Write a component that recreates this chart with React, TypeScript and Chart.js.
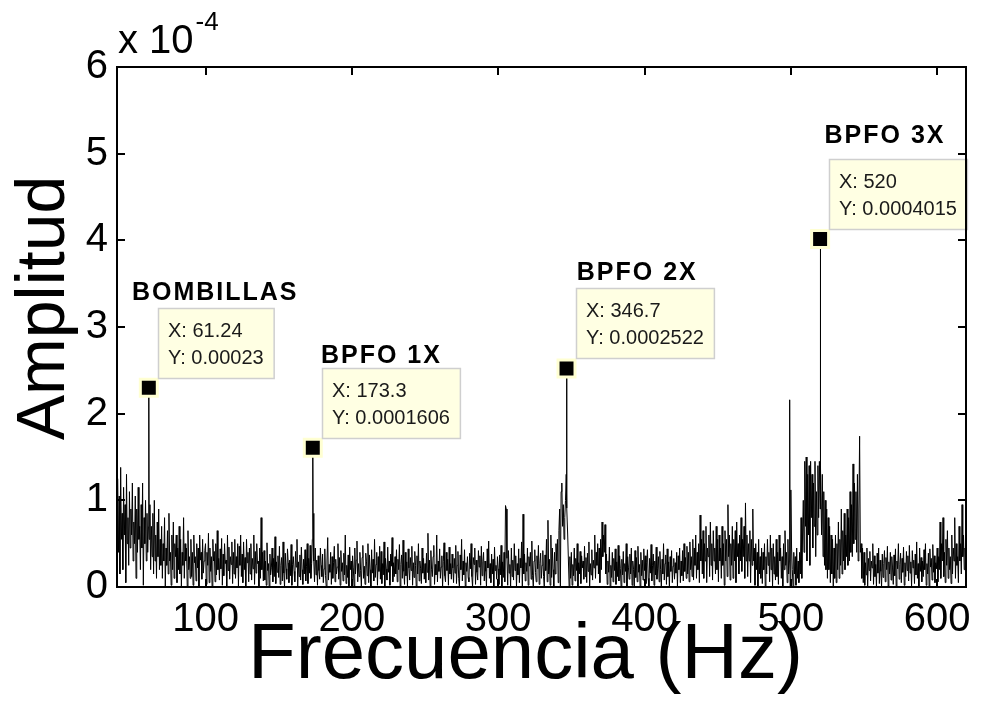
import React, { useEffect, useRef } from "react";
import { Chart, registerables } from "chart.js";

Chart.register(...registerables);

// ---------------- data ----------------
const FREQ_START = 40; // Hz
const FREQ_STEP = 0.5; // Hz
// spectrum amplitude (x 10^-4), every 0.5 Hz from 40 Hz to 620 Hz (one row = 10 Hz)
const noiseAmp: number[] = [
  1.25, 0.4, 1.05, 0.15, 1.38, 0.55, 0.85, 0.2, 1.15, 0.6, 0.95, 0.05, 1.3, 0.5, 0.8, 0.25, 1.1, 0.45, 0.9, 0.6,
  1.2, 0.3, 0.75, 0.5, 1.05, 0.1, 0.9, 0.4, 1.15, 0.55, 0.7, 0.2, 0.95, 0.45, 1.2, 0.02, 0.8, 0.5, 1.0, 0.3,
  0.85, 0.4, 0.7, 0.55, 0.95, 0.2, 0.7, 0.35, 0.85, 0.15, 1.0, 0.3, 0.6, 0.1, 0.75, 0.35, 0.9, 0.2, 0.55, 0.25,
  0.7, 0.1, 0.5, 0.3, 0.8, 0.0, 0.45, 0.25, 0.65, 0.15, 0.85, 0.3, 0.4, 0.02, 0.6, 0.2, 0.75, 0.1, 0.5, 0.35,
  0.6, 0.05, 0.45, 0.2, 0.7, 0.15, 0.55, 0.0, 0.4, 0.25, 0.8, 0.1, 0.5, 0.3, 0.45, 0.0, 0.65, 0.2, 0.35, 0.1,
  0.55, 0.12, 0.4, 0.02, 0.6, 0.28, 0.35, 0.07, 0.5, 0.22, 0.45, 0.0, 0.6, 0.31, 0.4, 0.09, 0.55, 0.16, 0.3, 0.42,
  0.5, 0.03, 0.4, 0.25, 0.62, 0.05, 0.45, 0.18, 0.35, 0.0, 0.55, 0.3, 0.41, 0.06, 0.5, 0.14, 0.65, 0.2, 0.33, 0.08,
  0.44, 0.21, 0.56, 0.02, 0.38, 0.13, 0.5, 0.27, 0.31, 0.0, 0.6, 0.19, 0.46, 0.09, 0.35, 0.26, 0.52, 0.04, 0.4, 0.15,
  0.55, 0.1, 0.35, 0.22, 0.5, 0.01, 0.47, 0.25, 0.6, 0.12, 0.38, 0.05, 0.52, 0.2, 0.34, 0.0, 0.55, 0.28, 0.4, 0.06,
  0.45, 0.15, 0.5, 0.08, 0.33, 0.21, 0.6, 0.03, 0.41, 0.16, 0.5, 0.27, 0.3, 0.0, 0.45, 0.1, 0.8, 0.2, 0.4, 0.07,
  0.42, 0.08, 0.3, 0.02, 0.51, 0.19, 0.27, 0.0, 0.38, 0.14, 0.22, 0.45, 0.06, 0.33, 0.12, 0.58, 0.04, 0.29, 0.17, 0.36,
  0.11, 0.47, 0.03, 0.25, 0.34, 0.07, 0.52, 0.16, 0.0, 0.39, 0.21, 0.09, 0.44, 0.28, 0.05, 0.31, 0.13, 0.49, 0.02, 0.26,
  0.35, 0.18, 0.06, 0.41, 0.23, 0.55, 0.01, 0.29, 0.12, 0.37, 0.08, 0.46, 0.2, 0.03, 0.32, 0.15, 0.43, 0.07, 0.24, 0.5,
  0.04, 0.33, 0.16, 0.48, 0.1, 0.27, 0.55, 0.85, 0.3, 0.06, 0.45, 0.14, 0.31, 0.02, 0.36, 0.19, 0.09, 0.45, 0.25, 0.12,
  0.38, 0.05, 0.21, 0.44, 0.13, 0.0, 0.3, 0.57, 0.08, 0.26, 0.17, 0.4, 0.03, 0.35, 0.1, 0.28, 0.47, 0.06, 0.32, 0.15,
  0.23, 0.5, 0.09, 0.34, 0.02, 0.42, 0.18, 0.28, 0.07, 0.39, 0.14, 0.6, 0.04, 0.25, 0.11, 0.37, 0.0, 0.46, 0.2, 0.3,
  0.08, 0.36, 0.22, 0.01, 0.45, 0.15, 0.31, 0.53, 0.06, 0.27, 0.12, 0.4, 0.19, 0.0, 0.34, 0.48, 0.1, 0.24, 0.03, 0.39,
  0.29, 0.13, 0.5, 0.05, 0.37, 0.2, 0.0, 0.43, 0.16, 0.32, 0.07, 0.55, 0.11, 0.26, 0.4, 0.02, 0.35, 0.18, 0.47, 0.09,
  0.41, 0.04, 0.27, 0.14, 0.52, 0.0, 0.33, 0.21, 0.08, 0.46, 0.17, 0.3, 0.02, 0.38, 0.24, 0.57, 0.06, 0.28, 0.12, 0.35,
  0.15, 0.43, 0.06, 0.32, 0.2, 0.49, 0.01, 0.26, 0.37, 0.1, 0.54, 0.18, 0.03, 0.4, 0.13, 0.29, 0.0, 0.44, 0.22, 0.08,
  0.34, 0.19, 0.47, 0.02, 0.28, 0.11, 0.41, 0.25, 0.0, 0.36, 0.15, 0.5, 0.07, 0.3, 0.21, 0.04, 0.45, 0.16, 0.33, 0.09,
  0.27, 0.05, 0.39, 0.17, 0.62, 0.08, 0.31, 0.0, 0.42, 0.2, 0.12, 0.35, 0.48, 0.03, 0.26, 0.14, 0.6, 0.06, 0.3, 0.18,
  0.44, 0.1, 0.23, 0.36, 0.0, 0.29, 0.51, 0.13, 0.06, 0.4, 0.19, 0.32, 0.02, 0.46, 0.15, 0.27, 0.09, 0.38, 0.22, 0.05,
  0.33, 0.16, 0.48, 0.04, 0.25, 0.41, 0.1, 0.0, 0.37, 0.2, 0.55, 0.07, 0.3, 0.14, 0.43, 0.01, 0.28, 0.18, 0.35, 0.11,
  0.06, 0.39, 0.21, 0.5, 0.12, 0.0, 0.34, 0.26, 0.45, 0.03, 0.31, 0.17, 0.08, 0.42, 0.23, 0.36, 0.02, 0.47, 0.13, 0.29,
  0.4, 0.07, 0.3, 0.18, 0.0, 0.44, 0.22, 0.53, 0.1, 0.27, 0.05, 0.38, 0.15, 0.32, 0.01, 0.46, 0.19, 0.25, 0.09, 0.35,
  0.21, 0.03, 0.37, 0.14, 0.48, 0.0, 0.29, 0.11, 0.4, 0.06, 0.94, 0.9, 0.33, 0.02, 0.42, 0.16, 0.26, 0.0, 0.45, 0.12,
  0.31, 0.08, 0.5, 0.19, 0.36, 0.0, 0.27, 0.14, 0.44, 0.05, 0.33, 0.22, 0.52, 0.01, 0.84, 0.15, 0.38, 0.07, 0.28, 0.18,
  0.45, 0.02, 0.35, 0.24, 0.4, 0.09, 0.53, 0.13, 0.0, 0.3, 0.43, 0.17, 0.06, 0.36, 0.21, 0.48, 0.03, 0.27, 0.39, 0.1,
  0.25, 0.42, 0.12, 0.0, 0.37, 0.19, 0.55, 0.06, 0.77, 0.15, 0.32, 0.02, 0.6, 0.11, 0.45, 0.2, 0.0, 0.4, 0.15, 0.5,
  0.3, 0.55, 0.05, 0.65, 0.9, 0.0, 1.1, 1.2, 0.7, 0.95, 0.55, 0.8, 1.0, 1.3, 0.91, 0.6, 0.3, 0.0, 0.35, 0.1,
  0.4, 0.02, 0.26, 0.13, 0.45, 0.07, 0.33, 0.19, 0.5, 0.0, 0.28, 0.15, 0.41, 0.04, 0.36, 0.22, 0.3, 0.09, 0.47, 0.12,
  0.34, 0.05, 0.39, 0.18, 0.52, 0.0, 0.27, 0.14, 0.43, 0.08, 0.31, 0.22, 0.6, 0.1, 0.4, 0.25, 0.5, 0.15, 0.45, 0.05,
  0.55, 0.2, 0.75, 0.35, 0.6, 0.4, 0.72, 0.15, 0.38, 0.03, 0.3, 0.17, 0.46, 0.0, 0.25, 0.11, 0.4, 0.06, 0.33, 0.19,
  0.44, 0.03, 0.29, 0.12, 0.48, 0.07, 0.36, 0.21, 0.0, 0.32, 0.14, 0.41, 0.05, 0.27, 0.18, 0.5, 0.01, 0.35, 0.23, 0.09,
  0.38, 0.15, 0.45, 0.02, 0.3, 0.2, 0.0, 0.42, 0.11, 0.34, 0.06, 0.47, 0.17, 0.26, 0.0, 0.4, 0.13, 0.31, 0.08, 0.44,
  0.19, 0.36, 0.04, 0.28, 0.43, 0.1, 0.0, 0.33, 0.16, 0.49, 0.07, 0.25, 0.38, 0.02, 0.3, 0.14, 0.46, 0.09, 0.21, 0.35,
  0.06, 0.41, 0.2, 0.0, 0.32, 0.15, 0.5, 0.08, 0.27, 0.37, 0.03, 0.44, 0.12, 0.29, 0.0, 0.35, 0.18, 0.42, 0.05, 0.24,
  0.33, 0.09, 0.28, 0.16, 0.4, 0.0, 0.36, 0.2, 0.45, 0.05, 0.3, 0.13, 0.42, 0.07, 0.5, 0.18, 0.34, 0.1, 0.47, 0.15,
  0.4, 0.06, 0.52, 0.2, 0.35, 0.12, 0.55, 0.08, 0.45, 0.25, 0.6, 0.1, 0.4, 0.2, 0.5, 0.05, 0.83, 0.3, 0.55, 0.15,
  0.65, 0.1, 0.5, 0.3, 0.7, 0.05, 0.45, 0.35, 0.6, 0.12, 0.75, 0.25, 0.5, 0.08, 0.65, 0.3, 0.45, 0.15, 0.7, 0.2,
  0.55, 0.06, 0.6, 0.3, 0.45, 0.1, 0.7, 0.25, 0.5, 0.02, 0.65, 0.3, 0.55, 0.12, 0.95, 0.35, 0.6, 0.08, 0.5, 0.25,
  0.7, 0.1, 0.55, 0.3, 0.65, 0.05, 0.75, 0.35, 0.5, 0.15, 0.6, 0.3, 0.8, 0.18, 0.55, 0.35, 0.7, 0.1, 0.97, 0.3,
  0.6, 0.12, 0.5, 0.3, 0.65, 0.05, 0.55, 0.25, 0.9, 0.3, 0.45, 0.02, 0.5, 0.2, 0.4, 0.0, 0.55, 0.15, 0.35, 0.1,
  0.45, 0.04, 0.4, 0.2, 0.5, 0.0, 0.35, 0.15, 0.55, 0.25, 0.4, 0.06, 0.6, 0.2, 0.45, 0.0, 0.5, 0.15, 0.35, 0.08,
  0.55, 0.12, 0.4, 0.03, 0.6, 0.3, 0.45, 0.1, 0.35, 0.0, 0.5, 0.2, 0.65, 0.25, 0.4, 0.05, 0.55, 0.15, 0.3, 0.0,
  1.12, 0.45, 0.2, 0.0, 0.4, 0.15, 0.35, 0.02, 0.45, 0.1, 0.3, 0.05, 0.4, 0.15, 0.8, 0.1, 0.6, 1.0, 0.4, 1.45,
  0.7, 1.5, 0.3, 1.3, 0.6, 1.4, 0.25, 1.45, 0.8, 1.3, 0.45, 1.2, 0.7, 1.45, 0.35, 1.1, 0.6, 1.4, 0.8, 1.45,
  0.9, 1.4, 0.6, 1.3, 0.35, 1.1, 0.25, 1.0, 0.2, 0.9, 0.1, 0.8, 0.2, 0.7, 0.05, 0.6, 0.15, 0.55, 0.0, 0.45,
  0.1, 0.6, 0.05, 0.5, 0.2, 0.75, 0.1, 0.55, 0.25, 0.9, 0.15, 0.65, 0.3, 0.85, 0.2, 0.6, 0.35, 0.9, 0.25, 0.8,
  0.3, 1.1, 0.4, 0.95, 0.35, 1.42, 0.5, 1.2, 0.55, 1.1, 0.4, 1.3, 0.3, 0.9, 1.74, 0.4, 0.5, 0.1, 0.45, 0.05,
  0.4, 0.02, 0.28, 0.14, 0.45, 0.0, 0.33, 0.19, 0.41, 0.07, 0.3, 0.22, 0.5, 0.03, 0.36, 0.12, 0.26, 0.0, 0.39, 0.16,
  0.45, 0.04, 0.31, 0.18, 0.0, 0.38, 0.11, 0.27, 0.42, 0.06, 0.34, 0.2, 0.47, 0.01, 0.29, 0.15, 0.4, 0.08, 0.35, 0.22,
  0.03, 0.37, 0.13, 0.44, 0.0, 0.3, 0.21, 0.5, 0.09, 0.26, 0.39, 0.05, 0.33, 0.17, 0.46, 0.02, 0.28, 0.12, 0.41, 0.19,
  0.36, 0.07, 0.48, 0.16, 0.29, 0.0, 0.42, 0.22, 0.31, 0.04, 0.38, 0.14, 0.52, 0.1, 0.27, 0.0, 0.45, 0.18, 0.34, 0.06,
  0.3, 0.12, 0.43, 0.2, 0.5, 0.02, 0.27, 0.15, 0.39, 0.0, 0.44, 0.23, 0.33, 0.08, 0.49, 0.17, 0.36, 0.05, 0.28, 0.21,
  0.45, 0.06, 0.35, 0.2, 0.75, 0.1, 0.5, 0.3, 0.8, 0.12, 0.4, 0.05, 0.55, 0.25, 0.65, 0.1, 0.45, 0.2, 0.35, 0.04,
  0.6, 0.15, 0.45, 0.3, 0.8, 0.1, 0.5, 0.25, 0.35, 0.05, 0.7, 0.3, 0.5, 0.15, 0.95, 0.35, 0.6, 0.2, 0.45, 0.3,
  0.5,
];

// sharp spectral peaks (Hz, x 10^-4)
const peakFreq = [61.24, 173.3, 346.7, 499.2, 520];
const peakAmp = [2.3, 1.606, 2.522, 2.16, 4.015];

// data tips
const tipFreq = [61.24, 173.3, 346.7, 520];
const tipAmp = [2.3, 1.606, 2.522, 4.015];
const tipXText = ["X: 61.24", "X: 173.3", "X: 346.7", "X: 520"];
const tipYText = ["Y: 0.00023", "Y: 0.0001606", "Y: 0.0002522", "Y: 0.0004015"];

// annotation labels (data coordinates of left edge / baseline)
const labelText = ["BOMBILLAS", "BPFO 1X", "BPFO 2X", "BPFO 3X"];
const labelFreq = [49.7, 178.9, 353.7, 523];
const labelAmp = [3.31, 2.585, 3.54, 5.12];

const xTicks = [100, 200, 300, 400, 500, 600];
const yTicks = [0, 1, 2, 3, 4, 5, 6];
const X_MIN = 39.5;
const X_MAX = 619.7;
const Y_MIN = 0;
const Y_MAX = 6;

const xTitle = "Frecuencia (Hz)";
const yTitle = "Amplitud";
const expBase = "x 10";
const expPow = "-4";

// ---------------- style ----------------
const FONT = '"Liberation Sans", Arial, Helvetica, sans-serif';

function buildLinePoints() {
  const pts: { x: number; y: number }[] = noiseAmp.map((v, i) => ({ x: FREQ_START + i * FREQ_STEP, y: v }));
  peakFreq.forEach((f, i) => pts.push({ x: f, y: peakAmp[i] }));
  pts.sort((a, b) => a.x - b.x);
  return pts;
}

const overlayPlugin = {
  id: "overlay",
  afterDraw(chart: any) {
    const ctx: CanvasRenderingContext2D = chart.ctx;
    const { left, right, top, bottom } = chart.chartArea;
    const xs = chart.scales.x;
    const ys = chart.scales.y;
    ctx.save();

    // data tips
    tipFreq.forEach((f, i) => {
      const px = xs.getPixelForValue(f);
      const py = ys.getPixelForValue(tipAmp[i]);
      ctx.font = `20px ${FONT}`;
      const w = Math.max(ctx.measureText(tipXText[i]).width, ctx.measureText(tipYText[i]).width) + 20;
      const h = 70;
      const bx = Math.round(px + 9);
      const by = Math.round(py - 10 - h);
      ctx.fillStyle = "#ffffe3";
      ctx.fillRect(bx, by, w, h);
      ctx.strokeStyle = "#cfcfcf";
      ctx.lineWidth = 1.5;
      ctx.strokeRect(bx + 0.5, by + 0.5, w, h);
      ctx.fillStyle = "#1a1a1a";
      ctx.textAlign = "left";
      ctx.textBaseline = "middle";
      ctx.fillText(tipXText[i], bx + 10, by + 23);
      ctx.fillText(tipYText[i], bx + 10, by + 50);
    });

    // bold labels
    ctx.font = `bold 25px ${FONT}`;
    (ctx as any).letterSpacing = "2px";
    ctx.fillStyle = "#000";
    ctx.textAlign = "left";
    ctx.textBaseline = "alphabetic";
    labelText.forEach((t, i) => {
      ctx.fillText(t, xs.getPixelForValue(labelFreq[i]), ys.getPixelForValue(labelAmp[i]));
    });
    (ctx as any).letterSpacing = "0px";

    // frame
    ctx.strokeStyle = "#000";
    ctx.lineWidth = 2;
    ctx.strokeRect(left, top, right - left, bottom - top);

    // inward ticks on all four sides
    const tl = 8;
    ctx.beginPath();
    xTicks.forEach((v) => {
      const px = Math.round(xs.getPixelForValue(v));
      ctx.moveTo(px, bottom);
      ctx.lineTo(px, bottom - tl);
      ctx.moveTo(px, top);
      ctx.lineTo(px, top + tl);
    });
    yTicks.forEach((v) => {
      const py = Math.round(ys.getPixelForValue(v));
      ctx.moveTo(left, py);
      ctx.lineTo(left + tl, py);
      ctx.moveTo(right, py);
      ctx.lineTo(right - tl, py);
    });
    ctx.stroke();

    // axis titles
    ctx.fillStyle = "#000";
    ctx.font = `78px ${FONT}`;
    ctx.textAlign = "center";
    ctx.textBaseline = "alphabetic";
    ctx.fillText(xTitle, (left + right) / 2 - 16, 678);

    ctx.save();
    ctx.translate(64, (top + bottom) / 2 - 19);
    ctx.rotate(-Math.PI / 2);
    ctx.font = `68px ${FONT}`;
    ctx.fillText(yTitle, 0, 0);
    ctx.restore();

    // exponent
    ctx.textAlign = "left";
    ctx.font = `40px ${FONT}`;
    ctx.fillText(expBase, left + 1, 53);
    const wBase = ctx.measureText(expBase).width;
    ctx.font = `26px ${FONT}`;
    ctx.fillText(expPow, left + 1 + wBase + 2, 30);

    ctx.restore();
  },
};

export default function App() {
  const ref = useRef<HTMLCanvasElement>(null);

  useEffect(() => {
    const canvas = ref.current;
    if (!canvas) return;
    const linePts = buildLinePoints();
    const markerPts = tipFreq.map((f, i) => ({ x: f, y: tipAmp[i] }));

    const chart = new Chart(canvas, {
      type: "line",
      data: {
        datasets: [
          {
            data: markerPts,
            showLine: false,
            pointStyle: "rect",
            pointRadius: 12,
            pointHoverRadius: 12,
            backgroundColor: "#000",
            borderColor: "#ffffd2",
            borderWidth: 3,
            order: 0,
            clip: false,
          } as any,
          {
            data: linePts,
            borderColor: "#000",
            borderWidth: 1,
            pointRadius: 0,
            tension: 0,
            fill: false,
            order: 1,
          },
        ],
      },
      options: {
        responsive: false,
        animation: false,
        devicePixelRatio: 1,
        events: [],
        layout: { padding: { left: 0, right: 11, top: 67, bottom: 0 } },
        plugins: {
          legend: { display: false },
          tooltip: { enabled: false },
          title: { display: false },
        },
        scales: {
          x: {
            type: "linear",
            min: X_MIN,
            max: X_MAX,
            afterBuildTicks: (s: any) => {
              s.ticks = xTicks.map((v) => ({ value: v }));
            },
            afterFit: (s: any) => {
              s.height = 118;
            },
            grid: { display: false, drawTicks: false },
            border: { display: false },
            ticks: {
              color: "#000",
              font: { family: FONT, size: 40 },
              padding: 9,
              maxRotation: 0,
              autoSkip: false,
            },
          },
          y: {
            type: "linear",
            min: Y_MIN,
            max: Y_MAX,
            afterBuildTicks: (s: any) => {
              s.ticks = yTicks.map((v) => ({ value: v }));
            },
            afterFit: (s: any) => {
              s.width = 117;
            },
            grid: { display: false, drawTicks: false },
            border: { display: false },
            ticks: {
              color: "#000",
              font: { family: FONT, size: 40 },
              padding: 9,
              autoSkip: false,
            },
          },
        },
      },
      plugins: [overlayPlugin],
    });
    return () => chart.destroy();
  }, []);

  return (
    <div style={{ position: "fixed", left: 0, top: 0, width: 981, height: 705, background: "#fff" }}>
      <canvas ref={ref} width={981} height={705} style={{ display: "block", width: 981, height: 705 }} />
    </div>
  );
}
